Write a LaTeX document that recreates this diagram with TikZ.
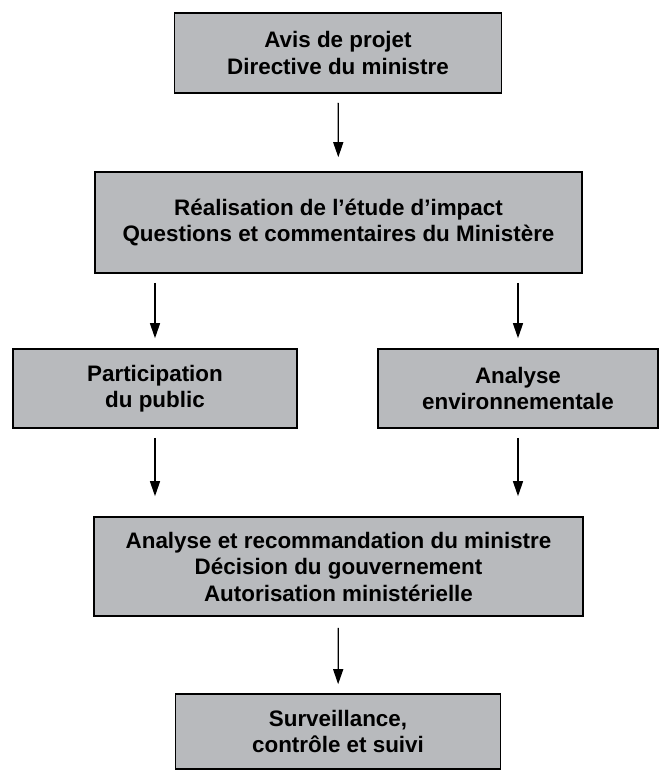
\documentclass[tikz,border=0pt]{standalone}
\usepackage{fontspec}
\setmainfont{Liberation Sans}
\usetikzlibrary{arrows.meta}
\definecolor{boxgray}{RGB}{184,186,189}
\begin{document}
\begin{tikzpicture}[x=1pt,y=1pt,
  stepbox/.style={draw=black, line width=1.6pt, fill=boxgray, rectangle, inner sep=0pt, align=center,
    font=\fontsize{22.4}{26.5}\selectfont\bfseries},
  flow/.style={line width=1.3pt, -{Triangle[length=15pt,width=10pt]}}]
\useasboundingbox (0,0) rectangle (660,-772);
\node[stepbox, minimum width=327pt, minimum height=80pt] (b1) at (338,-53) {Avis de projet\\Directive du ministre};
\node[stepbox, minimum width=487pt, minimum height=101pt] (b2) at (338.5,-222.5) {Réalisation de l'étude d’impact\\Questions et commentaires du Ministère};
\node[stepbox, minimum width=284pt, minimum height=79pt] (b3l) at (155,-388.5) {Participation\\du public};
\node[stepbox, minimum width=280pt, minimum height=79pt] (b3r) at (518,-388.5) {Analyse\\environnementale};
\node[stepbox, minimum width=489pt, minimum height=99pt] (b4) at (338.5,-566.5) {Analyse et recommandation du ministre\\Décision du gouvernement\\Autorisation ministérielle};
\node[stepbox, minimum width=325pt, minimum height=75pt] (b5) at (338,-731.5) {Surveillance,\\contrôle et suivi};
\draw[flow, shorten <=9pt, shorten >=14pt] (b1) -- (b2);
\draw[flow, shorten <=9pt, shorten >=10pt] (b2.south -| b3l.center) -- (b3l.north);
\draw[flow, shorten <=9pt, shorten >=10pt] (b2.south -| b3r.center) -- (b3r.north);
\draw[flow, shorten <=9pt, shorten >=20pt] (b3l.south) -- (b4.north -| b3l.center);
\draw[flow, shorten <=9pt, shorten >=20pt] (b3r.south) -- (b4.north -| b3r.center);
\draw[flow, shorten <=11pt, shorten >=9pt] (b4) -- (b5);
\end{tikzpicture}
\end{document}
